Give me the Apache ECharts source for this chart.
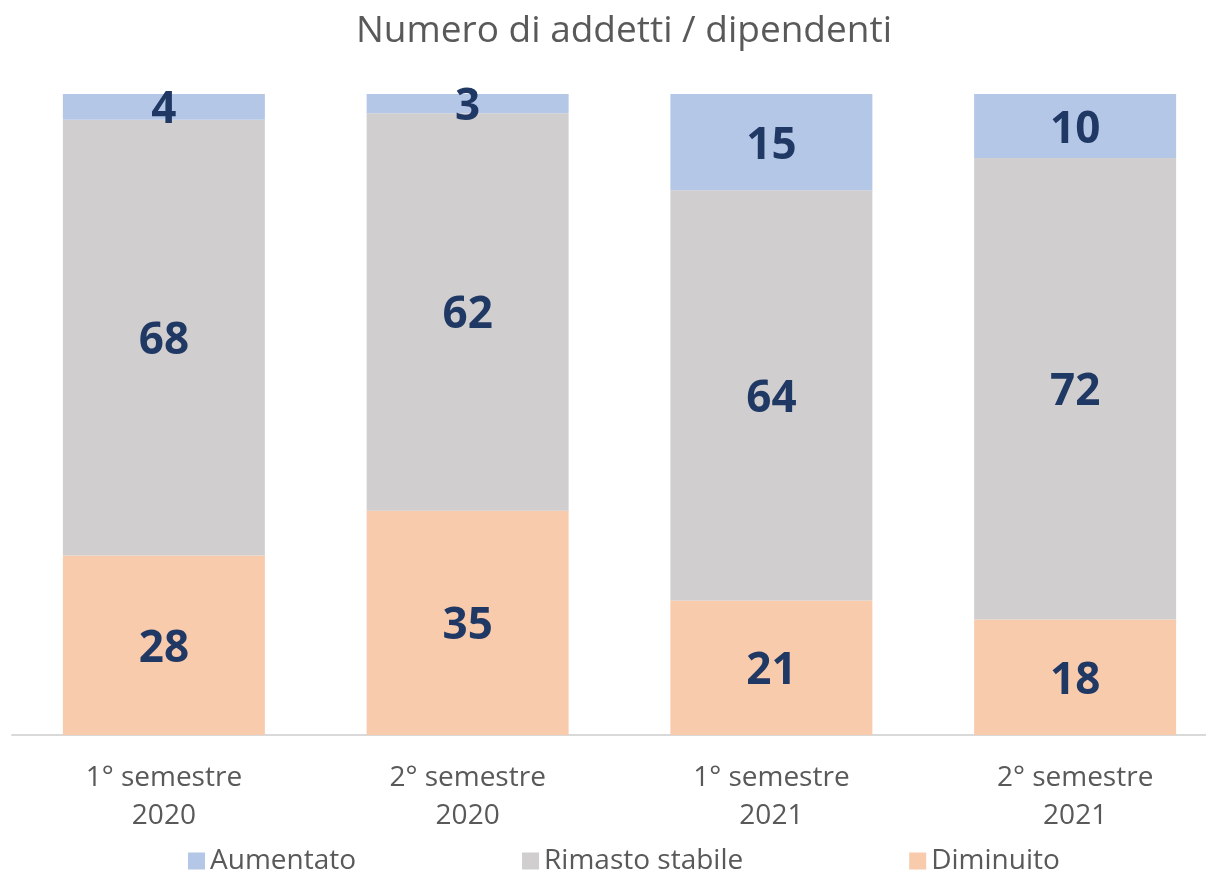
<!DOCTYPE html>
<html>
<head>
<meta charset="utf-8">
<script src="https://cdn.jsdelivr.net/npm/echarts@6/dist/echarts.min.js"></script>
<style>
  html, body { margin: 0; padding: 0; background: #fff; }
  #main { width: 1206px; height: 876px; }
</style>
</head>
<body>
<div id="main"></div>
<script>
const categories = ['1° semestre\n2020', '2° semestre\n2020', '1° semestre\n2021', '2° semestre\n2021']
const diminuito = [28, 35, 21, 18]
const rimastoStabile = [68, 62, 64, 72]
const aumentato = [4, 3, 15, 10]

const font = '"Open Sans", "Noto Sans", sans-serif'
const labelStyle = {
  show: true,
  position: 'inside',
  offset: [0, 4],
  color: '#203864',
  fontSize: 44,
  fontWeight: 'bold',
  fontFamily: font
}

const chart = echarts.init(document.getElementById('main'))
chart.setOption({
  animation: false,
  title: {
    text: 'Numero di addetti / dipendenti',
    left: 619,
    textAlign: 'center',
    top: 8,
    textStyle: { color: '#595959', fontSize: 37, fontWeight: 'normal', fontFamily: font }
  },
  legend: {
    bottom: -4,
    left: 183,
    itemWidth: 17,
    itemHeight: 17,
    itemGap: 166,
    icon: 'rect',
    textStyle: { color: '#595959', fontSize: 28, fontFamily: font },
    data: ['Aumentato', 'Rimasto stabile', 'Diminuito']
  },
  grid: { left: 12, top: 94, right: -21, bottom: 141, outerBoundsMode: 'none' },
  xAxis: {
    type: 'category',
    data: categories,
    axisLine: { lineStyle: { color: '#d9d9d9', width: 2 } },
    axisTick: { show: false },
    axisLabel: { color: '#595959', fontSize: 28, lineHeight: 38, margin: 24, fontFamily: font }
  },
  yAxis: {
    type: 'value',
    min: 0,
    max: 100,
    show: false
  },
  series: [
    {
      name: 'Diminuito',
      type: 'bar',
      stack: 'tot',
      barCategoryGap: '33.5%',
      itemStyle: { color: '#F8CBAD' },
      label: labelStyle,
      data: diminuito
    },
    {
      name: 'Rimasto stabile',
      type: 'bar',
      stack: 'tot',
      itemStyle: { color: '#D0CECE' },
      label: labelStyle,
      data: rimastoStabile
    },
    {
      name: 'Aumentato',
      type: 'bar',
      stack: 'tot',
      itemStyle: { color: '#B4C7E7' },
      label: labelStyle,
      data: aumentato
    }
  ]
})
</script>
</body>
</html>
